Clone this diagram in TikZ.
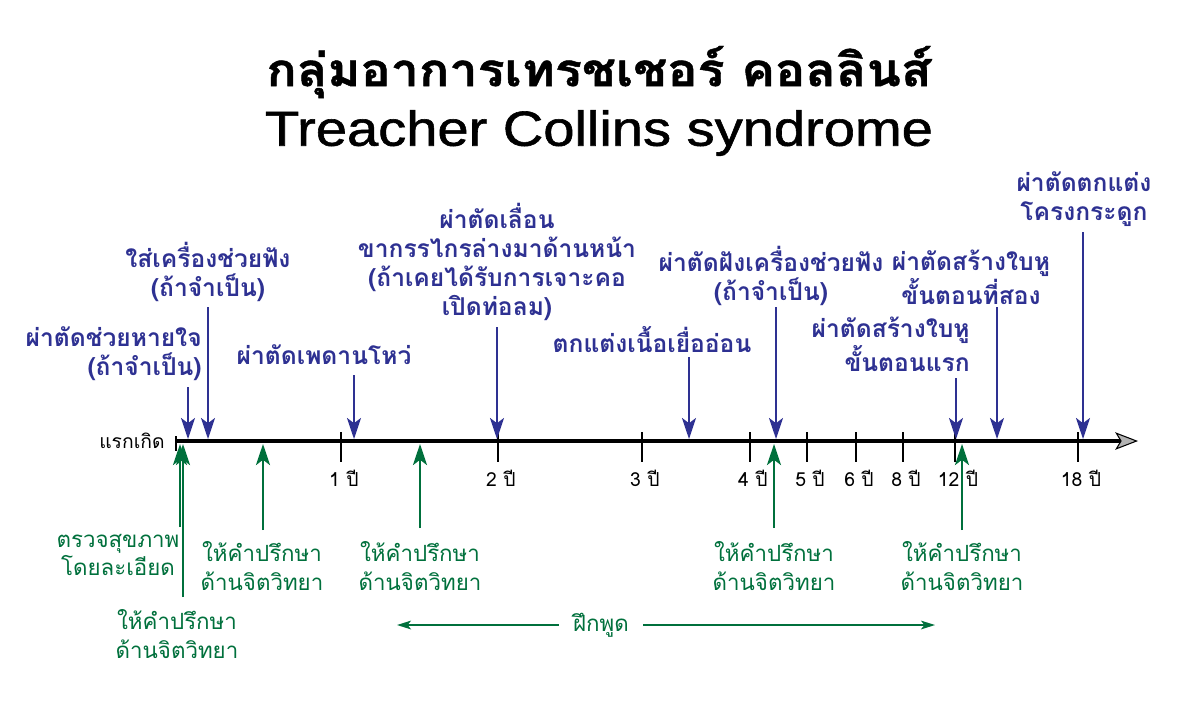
\documentclass[tikz,border=0pt]{standalone}
\usepackage{fontspec}
\setmainfont[Script=Thai]{Loma}
\newfontfamily\latinfont[FakeStretch=1.14,FakeBold=1.2]{Liberation Sans}
\newfontfamily\thaititle[Script=Thai,FakeStretch=1.1,FakeBold=1]{Loma}
\usetikzlibrary{arrows.meta}
\definecolor{opblue}{HTML}{2E3192}
\definecolor{cagreen}{HTML}{00703C}
\tikzset{
  oplabel/.style={text=opblue,font=\bfseries\fontsize{14}{16.4}\selectfont,align=center,inner sep=0pt},
  calabel/.style={text=cagreen,font=\fontsize{12.7}{16.4}\selectfont,align=center,inner sep=0pt},
  oparrow/.style={draw=opblue,line width=1.1pt,-{Stealth[length=12pt,width=8pt,inset=3pt]}},
  caarrow/.style={draw=cagreen,line width=1.1pt,-{Stealth[length=12pt,width=8pt,inset=3pt]}},
  agelabel/.style={font=\fontsize{11}{13}\selectfont,inner sep=0pt},
}
\begin{document}
\begin{tikzpicture}[x=0.02cm,y=-0.02cm,line cap=butt]
  \useasboundingbox (0,0) rectangle (1199,708);
  % title
  \node[font=\thaititle\bfseries\fontsize{26}{30}\selectfont] (titleth) at (599,72) {กลุ่มอาการเทรชเชอร์ คอลลินส์};
  \node[font=\latinfont\fontsize{28}{32}\selectfont] (titleen) at (599,133) {Treacher Collins syndrome};
  % time axis
  \coordinate (t0) at (176,441);
  \coordinate (tend) at (1138,441);
  \coordinate (ax) at (0,439);
  \coordinate (axb) at (0,444);
  \draw[line width=2.8pt,-{Stealth[length=13pt,width=10pt,inset=3pt,line width=0.6pt,fill=gray!60]}] (t0) -- (tend);
  \draw[line width=1.2pt] (176,436) -- (176,451);
  \node[agelabel,anchor=east] (birth) at (165,441) {แรกเกิด};
  \foreach \x/\lab/\n in {341/1/y1,498/2/y2,642/3/y3,750/4/y4,807/5/y5,856/6/y6,903/8/y8,955/12/y12,1078/18/y18} {
    \draw[line width=1.2pt] (\x,432) -- (\x,462);
    \node[agelabel] (\n) at (\x+3,478) {\lab\ ปี};
  }
  % operations (blue)
  \node[oplabel,anchor=east,align=right] (opbreath) at (202,354) {ผ่าตัดช่วยหายใจ\\(ถ้าจำเป็น)};
  \node[oplabel] (ophear) at (208,272) {ใส่เครื่องช่วยฟัง\\(ถ้าจำเป็น)};
  \node[oplabel] (oppalate) at (324,355) {ผ่าตัดเพดานโหว่};
  \node[oplabel] (opjaw) at (497,262) {ผ่าตัดเลื่อน\\ขากรรไกรล่างมาด้านหน้า\\(ถ้าเคยได้รับการเจาะคอ\\เปิดท่อลม)};
  \node[oplabel] (opsoft) at (652,340) {ตกแต่งเนื้อเยื่ออ่อน};
  \node[oplabel] (opimplant) at (771,276) {ผ่าตัดฝังเครื่องช่วยฟัง\\(ถ้าจำเป็น)};
  \node[oplabel,anchor=east,align=right] (opearone) at (970,344) {ผ่าตัดสร้างใบหู\\ขั้นตอนแรก};
  \node[oplabel] (opeartwo) at (971,277) {ผ่าตัดสร้างใบหู\\ขั้นตอนที่สอง};
  \node[oplabel] (opbone) at (1084,199) {ผ่าตัดตกแต่ง\\โครงกระดูก};
  \foreach \x/\y [count=\i] in {188/387,208/307,354/375,497/327,689/357,776/307,956/378,997/307,1083/232} {
    \coordinate (op\i) at (\x,\y);
    \draw[oparrow] (op\i) -- (op\i |- ax);
  }
  % care (green)
  \node[calabel] (cacheck) at (118,555) {ตรวจสุขภาพ\\โดยละเอียด};
  \node[calabel] (capsyA) at (177,634) {ให้คำปรึกษา\\ด้านจิตวิทยา};
  \node[calabel] (capsyB) at (262,566) {ให้คำปรึกษา\\ด้านจิตวิทยา};
  \node[calabel] (capsyC) at (420,566) {ให้คำปรึกษา\\ด้านจิตวิทยา};
  \node[calabel] (capsyD) at (774,566) {ให้คำปรึกษา\\ด้านจิตวิทยา};
  \node[calabel] (capsyE) at (962,566) {ให้คำปรึกษา\\ด้านจิตวิทยา};
  \foreach \x/\y [count=\i] in {180/527,183/597,263/530,420/528,774/528,962/530} {
    \coordinate (ca\i) at (\x,\y);
    \draw[caarrow] (ca\i) -- (ca\i |- axb);
  }
  % speech training
  \node[calabel,inner xsep=8pt] (speech) at (601,625) {ฝึกพูด};
  \coordinate (speechL) at (397,625);
  \coordinate (speechR) at (935,625);
  \draw[draw=cagreen,line width=0.9pt,-{Stealth[length=8pt,width=5pt,inset=2pt]}] (speech.west) -- (speechL);
  \draw[draw=cagreen,line width=0.9pt,-{Stealth[length=8pt,width=5pt,inset=2pt]}] (speech.east) -- (speechR);
\end{tikzpicture}
\end{document}
